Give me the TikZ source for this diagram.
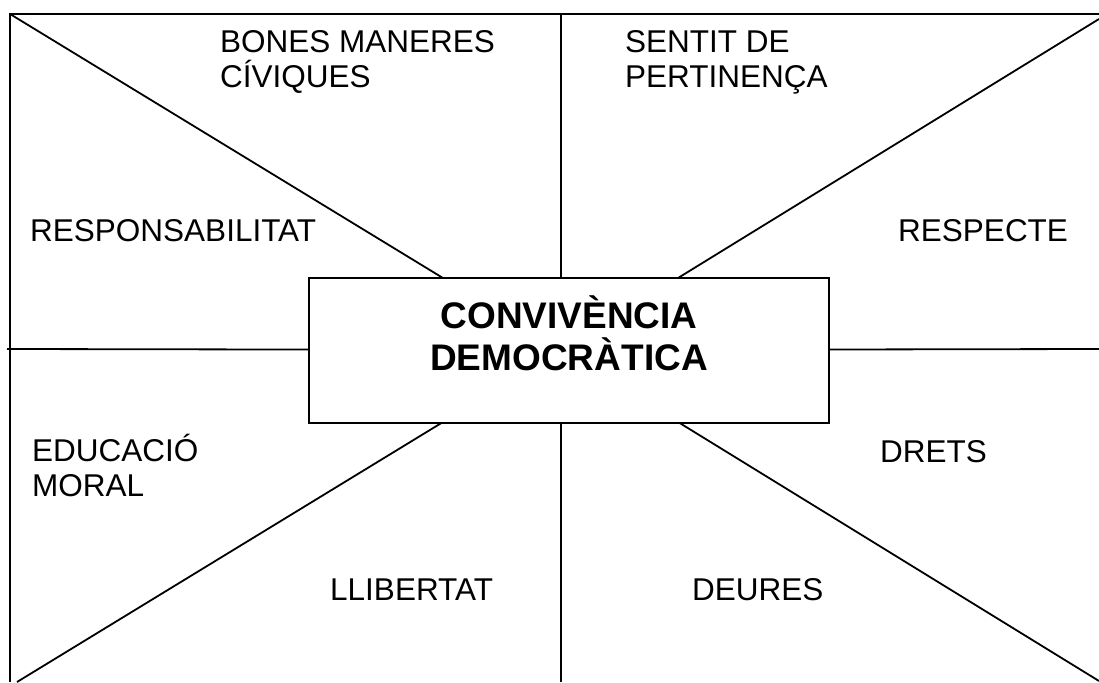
\documentclass[tikz,border=0pt]{standalone}
\usepackage{fontspec}
\setmainfont{Liberation Sans}
\tikzset{
	spoke/.style={draw, line width=1.8pt},
	frame/.style={draw, line width=2.6pt},
	word/.style={anchor=base west, align=left, inner sep=0pt, font=\fontsize{31.5}{35}\selectfont},
	centrebox/.style={draw, fill=white, line width=2pt, minimum width=520pt, minimum height=145pt},
}
\begin{document}
\begin{tikzpicture}[x=1pt,y=-1pt]
	\useasboundingbox (0,0) rectangle (1099,682);
	% spokes meet behind the box
	\coordinate (mid) at (561,350);
	\coordinate (tl) at (10,14);
	\coordinate (top) at (561,14);
	\coordinate (tr) at (1099,19);
	\coordinate (right) at (1099,349);
	\coordinate (br) at (1099,681);
	\coordinate (bottom) at (561,682);
	\coordinate (bl) at (17,682);
	\coordinate (left) at (7,349);
	\coordinate (topend) at (1099,14);
	\coordinate (leftend) at (10,682);
	\foreach \c in {tl,top,tr,right,br,bottom,bl,left}
		\path[spoke] (\c) -- (mid);
	\path[frame] (topend) -- (tl) -- (leftend);

	\node[centrebox] (conv) at (569,350.5) {};
	\node[anchor=base, align=center, inner sep=0pt, font=\fontsize{37}{42}\selectfont\bfseries] (convtext) at (569,370) {CONVIVÈNCIA\\DEMOCRÀTICA};

	\node[word] (bones) at (220,88) {BONES MANERES\\CÍVIQUES};
	\node[word] (sentit) at (625,88) {SENTIT DE\\PERTINENÇA};
	\node[word] (resp) at (30,241) {RESPONSABILITAT};
	\node[word] (respecte) at (898,241) {RESPECTE};
	\node[word] (educ) at (32,496) {EDUCACIÓ\\MORAL};
	\node[word] (drets) at (880,462) {DRETS};
	\node[word] (llib) at (330,600) {LLIBERTAT};
	\node[word] (deures) at (692,600) {DEURES};
\end{tikzpicture}
\end{document}
